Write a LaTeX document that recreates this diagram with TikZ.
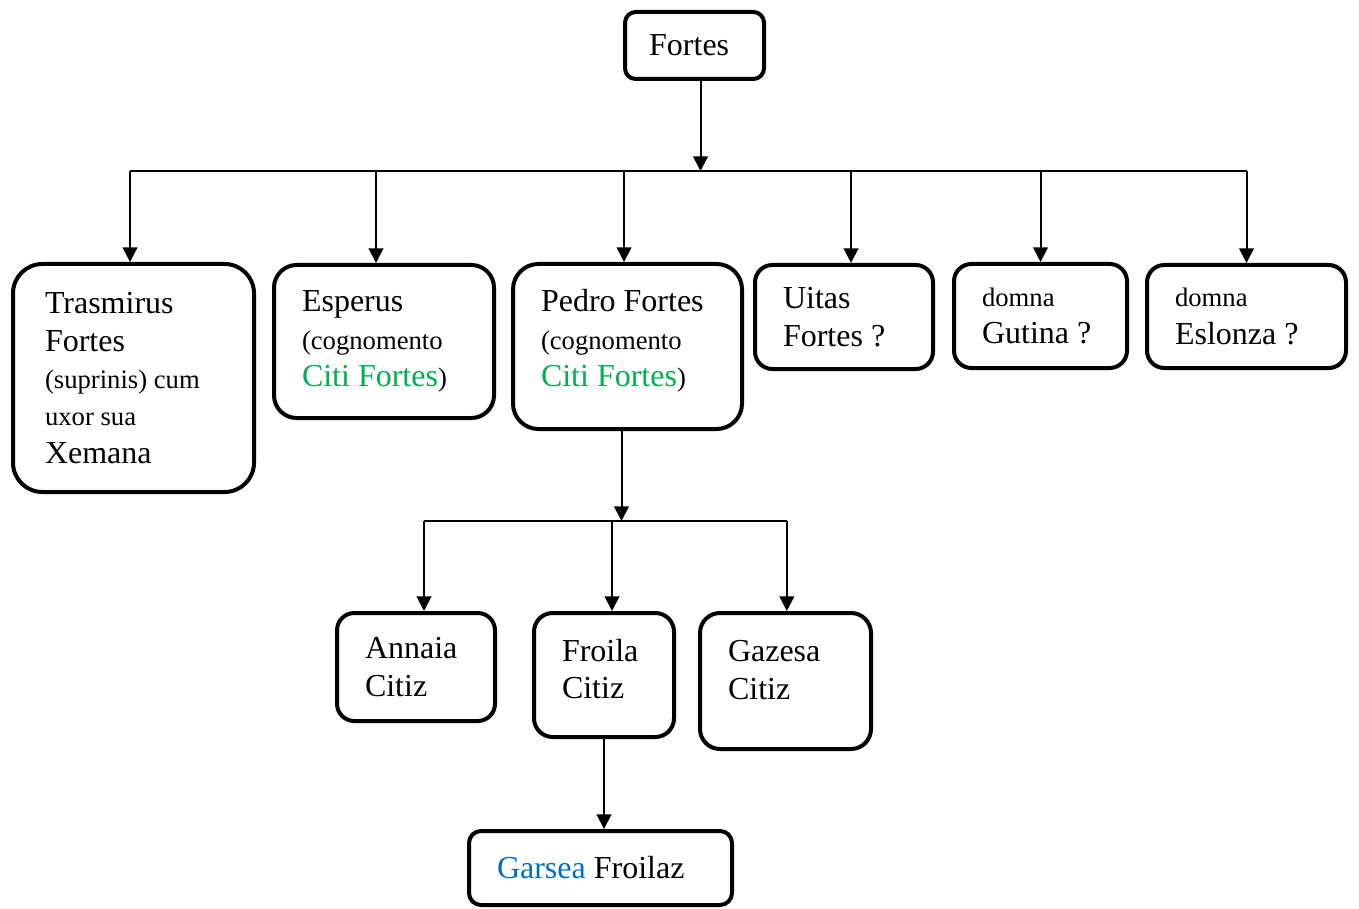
\documentclass[tikz,border=0pt]{standalone}
\usepackage{fontspec}
\setmainfont{Liberation Serif}
\usepackage{xcolor}
\usepackage{tikz}
\usetikzlibrary{arrows.meta,positioning}
\definecolor{cCiti}{HTML}{00B050}
\definecolor{cGarsea}{HTML}{0070C0}
\newcommand{\namefont}{\fontsize{24}{28}\selectfont}
\newcommand{\notefont}{\fontsize{20}{28}\selectfont}
\tikzset{
  pbox/.style  = {rectangle, draw=black, line width=3pt, rounded corners=14pt,
                  align=flush left, inner xsep=21pt, inner ysep=4pt, font=\namefont},
  arr/.style   = {-{Triangle[length=11pt,width=11pt]}, line width=1.5pt},
  busln/.style = {line width=1.2pt},
}
\begin{document}
\begin{tikzpicture}[x=0.75pt,y=-0.75pt]
  \useasboundingbox[fill=white] (0,0) rectangle (1359,909);

  % first generation
  \node[pbox, rounded corners=8pt, align=center, minimum width=104.25pt, minimum height=50.25pt] (fortes) at (694.5,45.5) {\hspace*{-8pt}Fortes};

  % children of Fortes
  \node[pbox, rounded corners=22pt, inner xsep=24pt, minimum width=180.75pt, minimum height=171pt, text width=132.75pt] (trasm) at (133.5,378) {Trasmirus\\ Fortes\\ \notefont (suprinis) cum\\ uxor sua\\ \namefont Xemana};
  \node[pbox, rounded corners=17pt, minimum width=165pt, minimum height=114.75pt, text width=123pt] (esper) at (384,341.5) {Esperus\\ \notefont (cognomento\\ \namefont\textcolor{cCiti}{Citi Fortes}\notefont)};
  \node[pbox, rounded corners=19pt, minimum width=171.75pt, minimum height=123.75pt, text width=129.75pt, text depth=68.5pt] (pedro) at (627.5,346.5) {Pedro Fortes\\ \notefont (cognomento\\ \namefont\textcolor{cCiti}{Citi Fortes}\notefont)};
  \node[pbox, rounded corners=13pt, minimum width=133.5pt, minimum height=78pt, text width=91.5pt] (uitas) at (844,317) {Uitas\\ Fortes ?};
  \node[pbox, rounded corners=13pt, minimum width=129.75pt, minimum height=78pt, text width=87.75pt] (gutina) at (1040.5,316) {\notefont domna\\ \namefont Gutina ?};
  \node[pbox, rounded corners=13pt, minimum width=149.25pt, minimum height=77.25pt, text width=107.25pt] (eslonza) at (1246.5,316.5) {\notefont domna\\ \namefont Eslonza ?};

  % children of Pedro Fortes
  \node[pbox, rounded corners=13pt, minimum width=118.5pt, minimum height=81pt, text width=76.5pt] (annaia) at (416,667) {Annaia\\ Citiz};
  \node[pbox, rounded corners=14pt, minimum width=105pt, minimum height=93pt, text width=63pt, text depth=37pt] (froila) at (604,675) {Froila\\ Citiz};
  \node[pbox, rounded corners=15pt, minimum width=128.25pt, minimum height=102pt, text width=86.25pt, text depth=44.5pt] (gazesa) at (785.5,681) {Gazesa\\ Citiz};

  % child of Froila
  \node[pbox, rounded corners=9pt, minimum width=197.25pt, minimum height=55.5pt, text width=155.25pt] (garsea) at (600.5,868) {\textcolor{cGarsea}{Garsea} Froilaz};

  % connectors
  \coordinate (bus) at (0,171);
  \coordinate (bus2) at (0,521);
  \coordinate (fortes-out) at ([xshift=4.5pt]fortes.south);
  \coordinate (pedro-out) at ([xshift=-4.5pt]pedro.south);

  \draw[arr] (fortes-out) -- (fortes-out |- bus);
  \foreach \kid/\dx in {trasm/-2.6,esper/-6,pedro/-2.6,uitas/5.25,gutina/0,eslonza/0}
    \coordinate (\kid-in) at ([xshift=\dx pt]\kid.north);
  \draw[busln] (bus -| trasm-in) -- (bus -| eslonza-in);
  \foreach \kid in {trasm,esper,pedro,uitas,gutina,eslonza}
    \draw[arr] (bus -| \kid-in) -- (\kid-in);

  \draw[arr] (pedro-out) -- (pedro-out |- bus2);
  \foreach \kid/\dx in {annaia/6,froila/6,gazesa/1}
    \coordinate (\kid-in) at ([xshift=\dx pt]\kid.north);
  \draw[busln] (bus2 -| annaia-in) -- (bus2 -| gazesa-in);
  \foreach \kid in {annaia,froila,gazesa}
    \draw[arr] (bus2 -| \kid-in) -- (\kid-in);

  \draw[arr] (froila.south) -- (garsea.north -| froila.south);
\end{tikzpicture}
\end{document}
